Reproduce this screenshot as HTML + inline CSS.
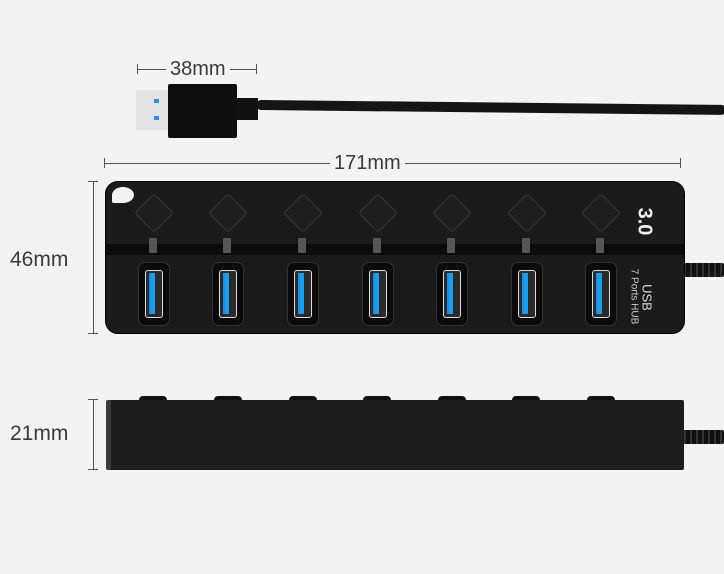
<!DOCTYPE html>
<html><head><style>
body{margin:0;width:724px;height:574px;background:#f3f3f3;position:relative;overflow:hidden;font-family:"Liberation Sans",sans-serif;color:#3a3a3a}
.a{position:absolute}
.hl{position:absolute;height:1px;background:#555}
.vl{position:absolute;width:1px;background:#555}
.t{position:absolute;font-size:20px;line-height:20px;background:#f3f3f3;padding:0 4px}
.btn{position:absolute;width:26px;height:26px;border:1px solid #3a3a3a;transform:rotate(45deg);border-radius:3px;background:#1e1e1e}
.led{position:absolute;width:8px;height:15px;background:#555;border-radius:1px}
.port{position:absolute;width:30px;height:62px;background:#0a0a0a;border-radius:7px;border:1px solid #333}
.port i{position:absolute;left:6px;top:7px;width:16px;height:46px;border:1px solid #ddd;border-radius:3px;background:#2a2a2a}
.port b{position:absolute;left:10px;top:10px;width:6px;height:41px;background:#1e8fe8;box-shadow:-4px 0 0 #16a0f0 inset}
.bump{position:absolute;width:28px;height:6px;background:#111;border-radius:4px 4px 0 0}
</style></head><body>
<div class="hl" style="left:137px;top:69px;width:120px"></div>
<div class="vl" style="left:137px;top:64px;height:10px"></div>
<div class="vl" style="left:256px;top:64px;height:10px"></div>
<div class="t" style="left:166px;top:59px">38mm</div>
<div class="a" style="left:136px;top:90px;width:34px;height:40px;background:#e3e3e3"></div>
<div class="a" style="left:154px;top:99px;width:5px;height:4px;background:#2a8ee8"></div>
<div class="a" style="left:154px;top:116px;width:5px;height:4px;background:#2a8ee8"></div>
<div class="a" style="left:168px;top:84px;width:69px;height:54px;background:#0e0e0e;border-radius:2px"></div>
<div class="a" style="left:236px;top:98px;width:22px;height:22px;background:#111"></div>
<div class="a" style="left:256px;top:100px;width:470px;height:10px;background:#151515;border-radius:5px;transform:rotate(0.6deg);transform-origin:left"></div>
<div class="hl" style="left:104px;top:163px;width:577px"></div>
<div class="vl" style="left:104px;top:158px;height:10px"></div>
<div class="vl" style="left:680px;top:158px;height:10px"></div>
<div class="t" style="left:330px;top:153px">171mm</div>
<div class="vl" style="left:93px;top:181px;height:153px"></div>
<div class="hl" style="left:88px;top:181px;width:10px"></div>
<div class="hl" style="left:88px;top:333px;width:10px"></div>
<div class="a" style="left:10px;top:248px;font-size:21px">46mm</div>
<div class="a" style="left:680px;top:263px;width:44px;height:14px;background:repeating-linear-gradient(90deg,#111 0 4px,#333 4px 6px);border-radius:2px"></div>
<div class="a" style="left:680px;top:430px;width:44px;height:14px;background:repeating-linear-gradient(90deg,#111 0 4px,#333 4px 6px);border-radius:2px"></div>
<div class="a" style="left:105px;top:181px;width:580px;height:153px;background:#1b1b1b;border-radius:13px;border:1px solid #000;box-sizing:border-box;overflow:hidden">
 <div class="a" style="left:0;top:62px;width:580px;height:11px;background:#0b0b0b"></div>
 <div class="a" style="left:6px;top:5px;width:22px;height:16px;background:#f3f3f3;border-radius:50% 50% 50% 10%"></div>
</div>
<div class="btn" style="left:140px;top:199px"></div>
<div class="btn" style="left:214px;top:199px"></div>
<div class="btn" style="left:289px;top:199px"></div>
<div class="btn" style="left:364px;top:199px"></div>
<div class="btn" style="left:438px;top:199px"></div>
<div class="btn" style="left:513px;top:199px"></div>
<div class="btn" style="left:587px;top:199px"></div>
<div class="led" style="left:149px;top:238px"></div>
<div class="led" style="left:223px;top:238px"></div>
<div class="led" style="left:298px;top:238px"></div>
<div class="led" style="left:373px;top:238px"></div>
<div class="led" style="left:447px;top:238px"></div>
<div class="led" style="left:522px;top:238px"></div>
<div class="led" style="left:596px;top:238px"></div>
<div class="port" style="left:138px;top:262px"><i></i><b></b></div>
<div class="port" style="left:212px;top:262px"><i></i><b></b></div>
<div class="port" style="left:287px;top:262px"><i></i><b></b></div>
<div class="port" style="left:362px;top:262px"><i></i><b></b></div>
<div class="port" style="left:436px;top:262px"><i></i><b></b></div>
<div class="port" style="left:511px;top:262px"><i></i><b></b></div>
<div class="port" style="left:585px;top:262px"><i></i><b></b></div>
<div class="a" style="left:622px;top:210px;width:44px;font-size:20px;font-weight:bold;color:#eee;transform:rotate(90deg);text-align:center">3.0</div>
<div class="a" style="left:622px;top:290px;width:50px;font-size:13px;color:#ddd;transform:rotate(90deg);text-align:center">USB</div>
<div class="a" style="left:596px;top:291px;width:76px;font-size:10px;color:#ccc;transform:rotate(90deg);text-align:center">7 Ports HUB</div>
<div class="bump" style="left:139px;top:396px"></div>
<div class="bump" style="left:214px;top:396px"></div>
<div class="bump" style="left:289px;top:396px"></div>
<div class="bump" style="left:363px;top:396px"></div>
<div class="bump" style="left:438px;top:396px"></div>
<div class="bump" style="left:512px;top:396px"></div>
<div class="bump" style="left:587px;top:396px"></div>
<div class="a" style="left:106px;top:400px;width:578px;height:70px;background:#1d1d1d;border-left:5px solid #3a3a3a;box-sizing:border-box;border-radius:2px"></div>
<div class="vl" style="left:93px;top:399px;height:71px"></div>
<div class="hl" style="left:88px;top:399px;width:10px"></div>
<div class="hl" style="left:88px;top:469px;width:10px"></div>
<div class="a" style="left:10px;top:422px;font-size:21px">21mm</div>
</body></html>
